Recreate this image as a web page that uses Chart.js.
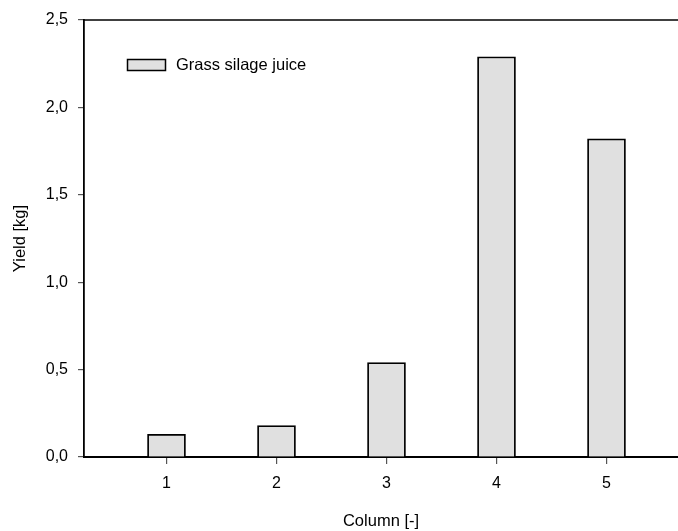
<!DOCTYPE html>
<html>
<head>
<meta charset="utf-8">
<script src="https://cdn.jsdelivr.net/npm/chart.js@4.4.0/dist/chart.umd.min.js"></script>
<style>
html,body{margin:0;padding:0;background:#fff;}
#wrap{width:678px;height:531px;}
</style>
</head>
<body>
<div id="wrap"><canvas id="c" width="678" height="531"></canvas></div>
<script>
const categories = [1, 2, 3, 4, 5];
const yieldValues = [0.13, 0.18, 0.54, 2.29, 1.82];
const seriesLabel = "Grass silage juice";
const yTicks = [0, 0.5, 1.0, 1.5, 2.0, 2.5];
const xTitle = "Column [-]";
const yTitle = "Yield [kg]";

const FONT = "Arial, 'Liberation Sans', sans-serif";

const decor = {
  id: 'decor',
  afterDraw(chart) {
    const ctx = chart.ctx;
    const a = chart.chartArea;
    ctx.save();
    // top frame line
    ctx.strokeStyle = '#000';
    ctx.lineWidth = 1.5;
    ctx.beginPath();
    ctx.moveTo(a.left, a.top);
    ctx.lineTo(a.right, a.top);
    ctx.stroke();
    // legend
    const ds = chart.data.datasets[0];
    const lx = a.left + 43.5, ly = a.top + 39.5;
    ctx.fillStyle = ds.backgroundColor;
    ctx.fillRect(lx, ly, 38, 11);
    ctx.lineWidth = 1.5;
    ctx.strokeStyle = '#000';
    ctx.strokeRect(lx, ly, 38, 11);
    ctx.fillStyle = '#000';
    ctx.font = '16.5px ' + FONT;
    ctx.textBaseline = 'middle';
    ctx.textAlign = 'left';
    ctx.fillText(ds.label, a.left + 92, ly + 6);
    // axis titles
    ctx.textAlign = 'center';
    ctx.fillText(xTitle, (a.left + a.right) / 2, 521);
    ctx.translate(20, (a.top + a.bottom) / 2);
    ctx.rotate(-Math.PI / 2);
    ctx.fillText(yTitle, 0, 0);
    ctx.restore();
  }
};

new Chart(document.getElementById('c'), {
  type: 'bar',
  data: {
    datasets: [{
      label: seriesLabel,
      data: categories.map((c, i) => ({ x: c, y: yieldValues[i] })),
      backgroundColor: '#e0e0e0',
      borderColor: '#000',
      borderWidth: 1.8,
      barThickness: 38
    }]
  },
  options: {
    responsive: false,
    devicePixelRatio: 1,
    animation: false,
    layout: { padding: { top: 20, right: 0, left: 0, bottom: 0 } },
    plugins: { legend: { display: false }, tooltip: { enabled: false } },
    scales: {
      x: {
        type: 'linear',
        offset: false,
        min: 0.25,
        max: 5.65,
        afterBuildTicks(scale) { scale.ticks = categories.map(v => ({ value: v })); },
        afterFit(scale) { scale.height = 74; },
        ticks: {
          color: '#000',
          font: { family: FONT, size: 16 },
          padding: 10,
          callback: v => String(v),
          maxRotation: 0
        },
        grid: { offset: false, drawOnChartArea: false, drawTicks: true, tickLength: 7, color: '#555', lineWidth: 1.2 },
        border: { display: true, color: '#000', width: 2 }
      },
      y: {
        type: 'linear',
        min: 0,
        max: 2.5,
        afterBuildTicks(scale) { scale.ticks = yTicks.map(v => ({ value: v })); },
        afterFit(scale) { scale.width = 84; },
        ticks: {
          color: '#000',
          font: { family: FONT, size: 16 },
          padding: 10,
          callback: v => v.toFixed(1).replace('.', ',')
        },
        grid: { drawOnChartArea: false, drawTicks: true, tickLength: 6, color: '#555', lineWidth: 1.2 },
        border: { display: true, color: '#000', width: 1.8 }
      }
    }
  },
  plugins: [decor]
});
</script>
</body>
</html>
